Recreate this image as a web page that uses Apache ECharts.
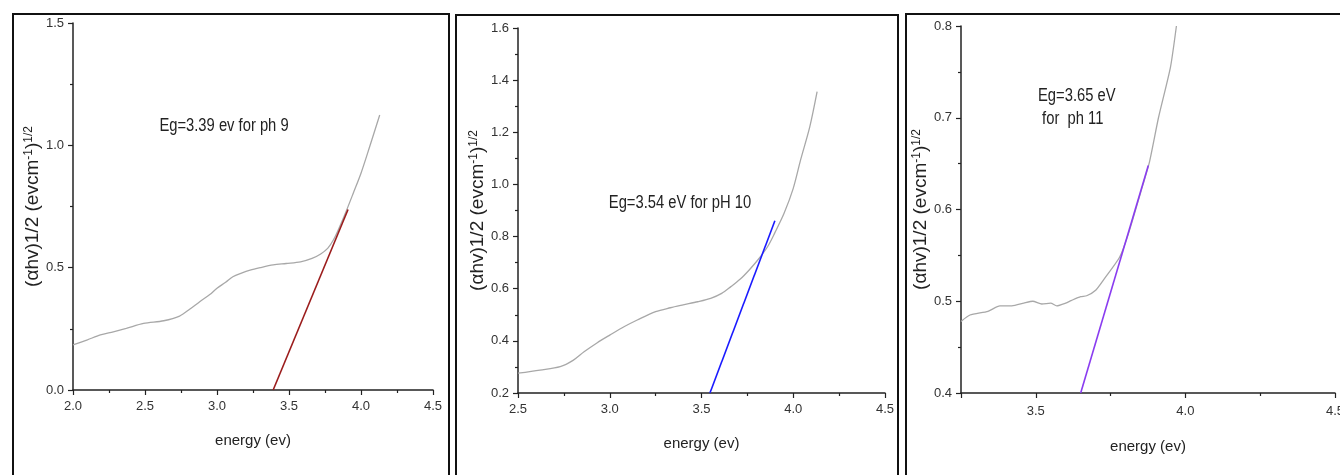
<!DOCTYPE html>
<html>
<head>
<meta charset="utf-8">
<script src="https://cdn.jsdelivr.net/npm/echarts@6/dist/echarts.min.js"></script>
<style>
  html, body { margin: 0; padding: 0; background: #fff; }
  #main { width: 1340px; height: 475px; }
</style>
</head>
<body>
<div id="main"></div>
<script>
// pH 9 curve
const energy9 = [2.0, 2.1, 2.19, 2.28, 2.37, 2.49, 2.63, 2.74, 2.81, 2.88, 2.95, 3.0, 3.06, 3.11, 3.17, 3.23, 3.3, 3.39, 3.48, 3.58, 3.66, 3.72, 3.77, 3.81, 3.85, 3.9, 3.95, 4.0, 4.06, 4.13];
const ahv9 = [0.184, 0.205, 0.225, 0.238, 0.252, 0.272, 0.283, 0.302, 0.33, 0.361, 0.39, 0.416, 0.44, 0.463, 0.478, 0.49, 0.5, 0.511, 0.517, 0.524, 0.538, 0.556, 0.58, 0.615, 0.665, 0.735, 0.81, 0.886, 0.994, 1.124];
const fitX9 = [3.39, 3.91];
const fitY9 = [0, 0.738];

// pH 10 curve
const energy10 = [2.5, 2.62, 2.73, 2.8, 2.86, 2.93, 3.0, 3.08, 3.15, 3.25, 3.33, 3.4, 3.48, 3.55, 3.61, 3.66, 3.71, 3.76, 3.81, 3.86, 3.9, 3.95, 4.0, 4.04, 4.09, 4.13];
const ahv10 = [0.276, 0.288, 0.301, 0.325, 0.358, 0.392, 0.422, 0.455, 0.48, 0.512, 0.527, 0.538, 0.55, 0.563, 0.582, 0.608, 0.636, 0.672, 0.713, 0.761, 0.815, 0.889, 0.985, 1.094, 1.221, 1.356];
const fitX10 = [3.546, 3.9];
const fitY10 = [0.2, 0.861];

// pH 11 curve
const energy11 = [3.25, 3.28, 3.34, 3.38, 3.42, 3.46, 3.49, 3.52, 3.55, 3.57, 3.6, 3.62, 3.65, 3.67, 3.7, 3.73, 3.78, 3.81, 3.85, 3.88, 3.91, 3.95, 3.97];
const ahv11 = [0.478, 0.485, 0.489, 0.495, 0.495, 0.498, 0.5, 0.497, 0.498, 0.495, 0.498, 0.501, 0.505, 0.506, 0.512, 0.525, 0.548, 0.574, 0.618, 0.652, 0.7, 0.755, 0.8];
const fitX11 = [3.65, 3.876];
const fitY11 = [0.4, 0.648];

const labels = ['Eg=3.39 ev for ph 9', 'Eg=3.54 eV for pH 10', 'Eg=3.65 eV\n for  ph 11'];
const xName = 'energy (ev)';
const yName = '(αhv)1/2 (evcm{sup|-1}){sup|1/2}';

function pairs(xs, ys) {
  return xs.map(function (x, i) { return [x, ys[i]]; });
}

const font = '"Liberation Sans", Arial, sans-serif';

function tickLabel(extra) {
  return Object.assign({ fontFamily: font, fontSize: 13, color: '#333',
    formatter: function (v) { return v.toFixed(1); } }, extra);
}

function xAxisOf(idx, min, max, gap, extra) {
  return Object.assign({
    gridIndex: idx,
    type: 'value',
    min: min,
    max: max,
    name: xName,
    nameLocation: 'middle',
    nameGap: gap,
    nameTextStyle: { fontFamily: font, fontSize: 15, color: '#222' },
    axisLine: { onZero: false, lineStyle: { color: '#222', width: 1.5 } },
    axisTick: { length: 5, lineStyle: { color: '#222', width: 1.2 } },
    minorTick: { show: true, splitNumber: 2, length: 3, lineStyle: { color: '#222', width: 1.2 } },
    splitLine: { show: false },
    axisLabel: tickLabel({ margin: 10 })
  }, extra);
}

function yAxisOf(idx, min, max, interval, gap) {
  return {
    gridIndex: idx,
    type: 'value',
    min: min,
    max: max,
    interval: interval,
    name: yName,
    nameLocation: 'middle',
    nameRotate: 90,
    nameGap: gap,
    nameTextStyle: {
      fontFamily: font, fontSize: 19, color: '#222',
      rich: { sup: { fontFamily: font, fontSize: 12, color: '#222', verticalAlign: 'top', lineHeight: 20 } }
    },
    axisLine: { show: true, onZero: false, lineStyle: { color: '#222', width: 1.5 } },
    axisTick: { show: true, length: 5, lineStyle: { color: '#222', width: 1.2 } },
    minorTick: { show: true, splitNumber: 2, length: 3, lineStyle: { color: '#222', width: 1.2 } },
    splitLine: { show: false },
    axisLabel: tickLabel({ margin: 9 })
  };
}

function curve(idx, data) {
  return {
    type: 'line', xAxisIndex: idx, yAxisIndex: idx, data: data,
    showSymbol: false, smooth: 0.3, silent: true,
    lineStyle: { color: '#a8a8a8', width: 1.3 }
  };
}

function fit(idx, data, color) {
  return {
    type: 'line', xAxisIndex: idx, yAxisIndex: idx, data: data,
    showSymbol: false, silent: true,
    lineStyle: { color: color, width: 1.6 }
  };
}

// the scan is squeezed sideways, so the notes are drawn narrow
function note(x, y, text, align) {
  return {
    type: 'text', x: x, y: y, scaleX: 0.82, silent: true,
    style: { x: 0, y: 0, text: text, font: '18px ' + font, fill: '#222', lineHeight: 23,
      textAlign: align, textVerticalAlign: 'middle' }
  };
}

const chart = echarts.init(document.getElementById('main'), null, { renderer: 'canvas' });

const option = {
  animation: false,
  backgroundColor: '#fff',
  grid: [
    { left: 73, top: 23, width: 360, height: 367, outerBoundsMode: 'none' },
    { left: 518, top: 28, width: 367, height: 365, outerBoundsMode: 'none' },
    { left: 961, top: 26, width: 374, height: 367, outerBoundsMode: 'none' }
  ],
  xAxis: [
    xAxisOf(0, 2.0, 4.5, 43, { interval: 0.5 }),
    xAxisOf(1, 2.5, 4.5, 43, { interval: 0.5 }),
    xAxisOf(2, 3.25, 4.5, 46, { splitNumber: 3, axisLabel: tickLabel({ margin: 12, showMinLabel: false }) })
  ],
  yAxis: [
    yAxisOf(0, 0, 1.5, 0.5, 20),
    yAxisOf(1, 0.2, 1.6, 0.2, 23),
    yAxisOf(2, 0.4, 0.8, 0.1, 22)
  ],
  series: [
    curve(0, pairs(energy9, ahv9)),
    fit(0, pairs(fitX9, fitY9), '#9b1c1c'),
    curve(1, pairs(energy10, ahv10)),
    fit(1, pairs(fitX10, fitY10), '#1a1aff'),
    Object.assign(curve(2, pairs(energy11, ahv11)), { smooth: 0.2 }),
    fit(2, pairs(fitX11, fitY11), '#8a3cf0')
  ],
  graphic: [
    // panel frames
    { type: 'rect', shape: { x: 13, y: 14, width: 436, height: 480 }, style: { fill: 'none', stroke: '#111', lineWidth: 2 }, silent: true },
    { type: 'rect', shape: { x: 456, y: 15, width: 442, height: 480 }, style: { fill: 'none', stroke: '#111', lineWidth: 2 }, silent: true },
    { type: 'rect', shape: { x: 906, y: 14, width: 450, height: 480 }, style: { fill: 'none', stroke: '#111', lineWidth: 2 }, silent: true },
    // band gap notes
    note(224, 126, labels[0], 'center'),
    note(680, 203, labels[1], 'center'),
    note(1038, 108, labels[2], 'left')
  ]
};

chart.setOption(option);
</script>
</body>
</html>
